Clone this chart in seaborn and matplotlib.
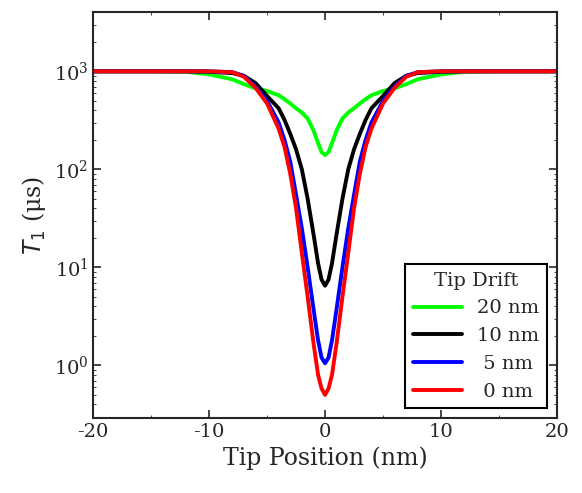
import numpy as np
import pandas as pd
import seaborn as sns
import matplotlib.pyplot as plt

# half-profile positions (nm), mirrored below
x_half = [-20, -15, -12, -10, -8, -7, -6, -5, -4, -3.5, -3, -2.5, -2, -1.5, -1, -0.6, -0.3, 0]
red = [1000, 1000, 1000, 1000, 980, 880, 680, 470, 260, 170, 90, 40, 14, 5, 1.7, 0.8, 0.58, 0.5]
blue = [1000, 1000, 1000, 1000, 980, 900, 700, 500, 300, 200, 120, 55, 25, 10, 3.8, 1.8, 1.2, 1.05]
black = [1000, 1000, 1000, 990, 960, 900, 760, 560, 420, 320, 230, 160, 100, 50, 22, 11, 7.5, 6.5]
green = [1000, 1000, 990, 930, 830, 740, 670, 630, 570, 520, 470, 420, 380, 330, 250, 185, 150, 140]

series = {"20 nm": (green, "#00ff00"), "10 nm": (black, "black"),
          " 5 nm": (blue, "blue"), " 0 nm": (red, "red")}

rows = []
for name, (vals, _) in series.items():
    xs = x_half + [-v for v in x_half[-2::-1]]
    ys = vals + vals[-2::-1]
    for a, b in zip(xs, ys):
        rows.append({"x": a, "T1": b, "drift": name})
df = pd.DataFrame(rows)

sns.set_style("ticks")
plt.rcParams['font.family'] = ['DejaVu Serif']
plt.rcParams['axes.unicode_minus'] = False
fig, ax = plt.subplots(figsize=(5.82, 4.93), dpi=100)
sns.lineplot(data=df, x="x", y="T1", hue="drift", sort=False,
             palette={k: c for k, (_, c) in series.items()}, linewidth=2.8, ax=ax)
ax.set_yscale("log")
ax.set_xlim(-20, 20)
ax.set_ylim(0.29, 4000)
ax.set_xticks([-20, -10, 0, 10, 20])
ax.set_xticks([-15, -5, 5, 15], minor=True)
ax.set_xlabel("Tip Position (nm)", fontsize=17)
ax.set_ylabel("$T_1$ (μs)", fontsize=17)
ax.tick_params(which="both", direction="in", top=True, right=True, labelsize=14)
ax.tick_params(which="major", length=6, width=1.2)
for s in ax.spines.values():
    s.set_linewidth(1.5)
leg = ax.legend(title="Tip Drift", loc="lower right", fontsize=14, title_fontsize=14,
                edgecolor="black", fancybox=False, framealpha=1, handlelength=2.5)
leg.get_frame().set_linewidth(1.5)
fig.subplots_adjust(left=0.16, right=0.957, top=0.975, bottom=0.152)
fig.savefig("out.png")
